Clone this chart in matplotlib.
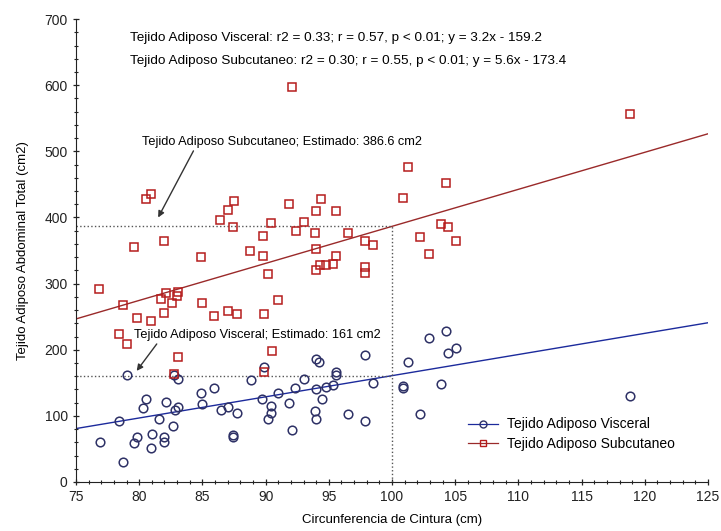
import numpy as np
import matplotlib
matplotlib.use('Agg')
import matplotlib.pyplot as plt
from matplotlib.ticker import MultipleLocator

plt.rcParams['font.family'] = ['Liberation Sans', 'DejaVu Sans']

# Tejido Adiposo Visceral (cm2) vs cintura (cm)
visc_x = [79.0, 82.75, 83.1, 76.9, 78.7, 78.4, 80.5, 80.3, 79.8, 79.6, 81.0, 80.9,
          81.6, 82.1, 82.0, 82.0, 82.65, 82.8, 83.1, 84.9, 85.0, 85.9, 86.5, 87.05,
          87.45, 87.45, 87.75, 88.85, 89.9, 89.75, 90.4, 90.4, 90.2, 91.0, 91.85,
          92.1, 92.35, 93.0, 93.95, 94.2, 93.95, 94.45, 93.9, 94.0, 94.75, 95.3,
          95.6, 95.6, 96.55, 97.9, 97.9, 98.5, 102.95, 104.3, 104.4, 105.1, 101.3,
          100.9, 100.9, 103.9, 102.2, 118.8]
visc_y = [162.5, 162.5, 155, 60.5, 30, 92, 126, 112, 68, 59, 73, 52,
          95, 121, 68, 60.5, 84, 108.5, 113.5, 134.6, 118.6, 142, 109.5, 113.5,
          71.7, 68, 105, 153.9, 174, 126, 115, 104.4, 96, 134.6, 119.6,
          79.3, 142, 156.4, 185.6, 181.6, 141, 126, 107.4, 95.3, 143.7, 146.3,
          166.4, 161.4, 102.4, 191.7, 92.3, 149.8, 218.5, 228, 195.8, 202, 181,
          145.8, 142.8, 148.8, 102.4, 130]

# Tejido Adiposo Subcutaneo (cm2) vs cintura (cm)
subc_x = [92.1, 80.5, 80.9, 79.6, 82.0, 84.9, 86.4, 87.05, 87.5, 87.45, 88.8, 89.8,
          89.8, 90.4, 90.2, 91.85, 92.4, 93.0, 94.4, 94.0, 95.6, 93.9, 94.0, 96.5,
          95.6, 94.0, 94.3, 94.8, 95.3, 97.9, 98.5, 97.9, 97.9, 118.8, 101.3, 104.3,
          100.9, 103.9, 104.45, 102.2, 105.1, 102.9, 76.8, 78.7, 79.85, 80.9, 78.4,
          79.0, 81.7, 82.1, 82.6, 83.0, 83.1, 82.0, 85.0, 85.9, 87.0, 87.75, 89.9,
          91.0, 90.5, 83.1, 82.75, 89.9]
subc_y = [597, 427.7, 434.8, 355.5, 365, 339.5, 396, 412, 425, 385.8, 349, 372,
          342.5, 391, 314, 421, 379, 393, 428, 409.5, 409.5, 376.7, 353, 376,
          342, 321, 328, 328, 330, 365, 358, 325, 316, 555.8, 476.6, 452,
          429.7, 390, 385.8, 370, 364.6, 345, 292.6, 267, 248.7, 243, 223.5,
          209, 277, 286, 271, 281, 287.5, 255.7, 271, 251.7, 258.7, 253.7, 253.7,
          275, 198, 188.6, 164, 167]

# regression fits (slope, intercept) as printed on the chart
visc_fit = (3.2, -159.2)
subc_fit = (5.6, -173.4)
x_est = 100
visc_est = 161
subc_est = 386.6

visc_line = '#1c2a9c'
visc_mark = '#2e3166'
subc_line = '#9a2a2a'
subc_mark = '#b51c1c'

fig = plt.figure(figsize=(7.21, 5.31), dpi=100)
ax = fig.add_axes([0.1054, 0.0923, 0.8766, 0.8717])

xs = np.array([75, 125])
ax.plot(xs, visc_fit[0] * xs + visc_fit[1], color=visc_line, lw=1.0, zorder=2)
ax.plot(xs, subc_fit[0] * xs + subc_fit[1], color=subc_line, lw=1.0, zorder=2)

ax.plot(visc_x, visc_y, 'o', ms=6.2, mfc='none', mec=visc_mark, mew=1.1, zorder=3)
ax.plot(subc_x, subc_y, 's', ms=6, mfc='none', mec=subc_mark, mew=1.1, zorder=3)

# legend proxies
ax.plot([], [], '-o', color=visc_line, mec=visc_mark, mfc='none', ms=5, lw=0.9,
        label='Tejido Adiposo Visceral')
ax.plot([], [], '-s', color=subc_line, mec=subc_mark, mfc='none', ms=4.5, lw=0.9,
        label='Tejido Adiposo Subcutaneo')

# estimate guides
ax.plot([75, x_est], [subc_est, subc_est], ':', color='#555555', lw=1.0)
ax.plot([75, x_est], [visc_est, visc_est], ':', color='#555555', lw=1.0)
ax.plot([x_est, x_est], [0, subc_est], ':', color='#555555', lw=1.0)

ax.set_xlim(75, 125)
ax.set_ylim(0, 700)
ax.xaxis.set_major_locator(MultipleLocator(5))
ax.xaxis.set_minor_locator(MultipleLocator(1))
ax.yaxis.set_major_locator(MultipleLocator(100))
ax.yaxis.set_minor_locator(MultipleLocator(20))
ax.tick_params(which='both', direction='inout', labelsize=10, colors='#222222')
ax.tick_params(which='major', length=5, width=0.9)
ax.tick_params(which='minor', length=3, width=0.8)
ax.spines['top'].set_visible(False)
ax.spines['right'].set_visible(False)
ax.spines['left'].set_color('#222222')
ax.spines['bottom'].set_color('#222222')

ax.set_xlabel('Circunferencia de Cintura (cm)', fontsize=9.5, labelpad=7)
ax.set_ylabel('Tejido Adiposo Abdominal Total (cm2)', fontsize=9.5, labelpad=11)

ax.text(79.3, 672, 'Tejido Adiposo Visceral: r2 = 0.33; r = 0.57, p < 0.01; y = 3.2x - 159.2',
        fontsize=9.7, va='center')
ax.text(79.3, 636, 'Tejido Adiposo Subcutaneo: r2 = 0.30; r = 0.55, p < 0.01; y = 5.6x - 173.4',
        fontsize=9.7, va='center')

ax.annotate('Tejido Adiposo Subcutaneo; Estimado: 386.6 cm2', xy=(81.5, 400),
            xytext=(80.2, 514), fontsize=9.2, va='center',
            arrowprops=dict(arrowstyle='-|>', color='#333333', lw=1.0,
                            shrinkA=0, shrinkB=0, relpos=(0.19, 0)))
ax.annotate('Tejido Adiposo Visceral; Estimado: 161 cm2', xy=(79.8, 168),
            xytext=(79.6, 222), fontsize=9.2, va='center',
            arrowprops=dict(arrowstyle='-|>', color='#333333', lw=1.0,
                            shrinkA=0, shrinkB=0, relpos=(0.1, 0)))

ax.legend(loc='lower left', bbox_to_anchor=(0.6, 0.04), frameon=False, fontsize=10,
          handlelength=2.2, handletextpad=0.6, labelspacing=0.4)

fig.savefig('out.png', dpi=100)
